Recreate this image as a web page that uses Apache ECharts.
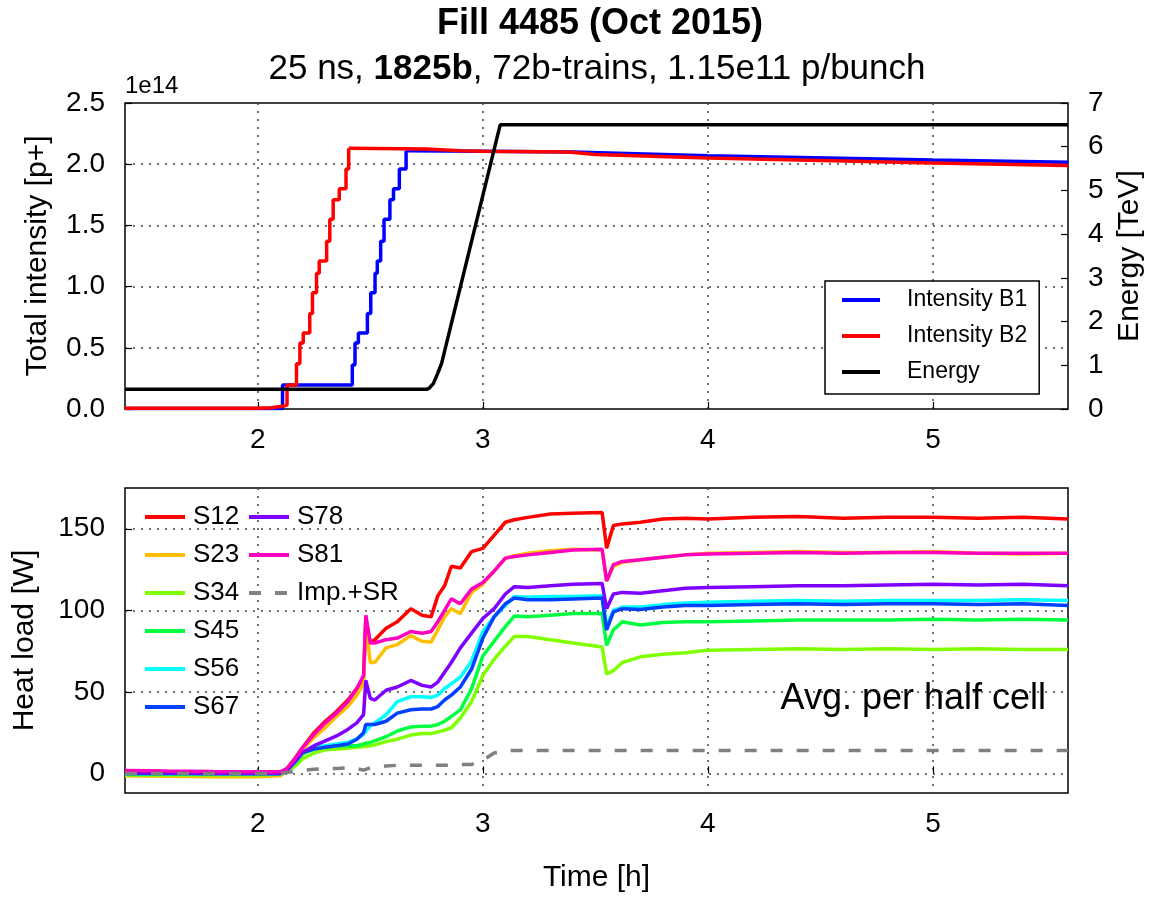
<!DOCTYPE html>
<html>
<head>
<meta charset="utf-8">
<script src="https://cdn.jsdelivr.net/npm/echarts@6/dist/echarts.min.js"></script>
<style>html,body{margin:0;padding:0;background:#fff}#c{width:1154px;height:898px}</style>
</head>
<body>
<div id="c"></div>
<script>
// ---------- data ----------
// top panel: intensity in units of 1e14 p+, time in hours
const b1Steps = [[1.41,0.004],[2.11,0.197],[2.42,0.36],[2.432,0.54],[2.447,0.62],[2.487,0.78],[2.502,0.95],[2.521,1.11],[2.531,1.21],[2.546,1.37],[2.561,1.55],[2.587,1.71],[2.603,1.80],[2.629,1.96],[2.659,2.11]];
const b1Decay = [[2.659,2.11],[3.0,2.105],[3.4,2.10],[4.0,2.07],[5.0,2.035],[5.6,2.015]];
const b2Steps = [[1.41,0.006],[1.9,0.007],[2.0,0.01],[2.06,0.02],[2.1,0.03],[2.13,0.197],[2.172,0.37],[2.187,0.54],[2.202,0.62],[2.231,0.78],[2.243,0.95],[2.261,1.11],[2.273,1.21],[2.306,1.37],[2.320,1.55],[2.335,1.71],[2.362,1.80],[2.392,1.96],[2.404,2.13]];
const b2Decay = [[2.404,2.13],[2.75,2.125],[2.9,2.11],[3.0,2.105],[3.38,2.10],[3.5,2.08],[4.0,2.05],[5.0,2.01],[5.6,1.99]];
const energy = [[1.41,0.45],[2.75,0.45],[2.76,0.47],[2.78,0.58],[2.80,0.82],[2.817,1.05],[3.077,6.5],[5.6,6.5]];
const xTicks = [2,3,4,5];
const heatTicks = [0,50,100,150];

// bottom panel: heat load [W]
const hlTime = [1.41,1.6,1.8,2.0,2.1, 2.13,2.17,2.2,2.25,2.3, 2.35,2.4,2.44,2.47,2.48, 2.5,2.52,2.57,2.62,2.68, 2.73,2.77,2.8,2.83,2.86, 2.9,2.95,3.0,3.05,3.1, 3.14,3.2,3.3,3.4,3.53, 3.55,3.58,3.62,3.7,3.8, 3.9,4.0,4.2,4.4,4.6, 4.8,5.0,5.2,5.4,5.6];
const s12 = [1.0,0.8,0.5,0.3,0.5, 3,10,16,25,32, 38,45,52,58,94, 80,82,89,93,101, 97,96,109,115,127, 126,136,138,146,154, 155.5,157,159,159.5,160, 138,152,153,154,156, 156.5,156,157,157.5,156.5, 157,157,156.5,157,156];
const s23 = [-1.5,-1.8,-2,-2,-1.5, 2,9,15,22,28, 35,41,48,55,92, 68,68,77,79,84.5, 81,80.5,88,96,101, 98,111,116,124,132, 133.5,135,136.5,137.5,137, 118,127,129.5,131,132.5, 134,135,135.5,136,135.5, 135.5,136,135,134.5,135];
const s34 = [-1,-1,-1,-1,-0.5, 1,5,9,12.5,14.5, 15,15.5,16,16.5,16.5, 17,17.5,19.5,21,23.5, 24.5,24.5,25.5,26.5,28, 34,44,60,70,78, 84,84,82,80,77.5, 61,63,68,71.5,73, 74,75.5,76,76.5,76, 76.5,76,76.5,76,76];
const s45 = [-0.5,-0.5,-0.5,-0.5,-0.5, 1.5,7,12,15,16, 17,17,17,18,18.5, 19,20,22.5,26,28.5, 29,29,30,32,35, 39,52,72,81,90, 96.5,96,97,98,98, 78.5,88,93,91,92.5, 93,93,93.5,94,94, 94,94.5,94,94.5,94];
const s56 = [0,0,0,0,0, 2,8,13,16,17, 18,19,21,24,26, 29,31,36,44,47, 47,46.5,48,52,55, 59,69,87,96,103, 108.5,108,108.5,108.5,109, 90,100,102,102,103.5, 104.5,105,105.5,106,105.5, 106,106,106,106.5,106];
const s67 = [0,0,0,0,0, 2,8,13,15,16, 17,18,21,25,30, 30,30,32,37,39, 39.5,39.5,41,45,48, 53,64,83,96,104, 107.5,106.5,106.5,107,107.5, 88,99,101,100.5,102, 103,103,103.5,104,103.5, 104,104,103.5,104,103];
const s78 = [0.5,0.3,0,0,0, 2,8,13,17,20, 23,27,31,36,57, 46,45,51,53,57, 54,53,56,62,68, 77,86,95,101,110, 114.5,114,115,116,116.5, 101,110,111,110.5,112, 113.5,114,114.5,115,115, 115.5,116,115.5,116,115];
const s81 = [1.8,1.5,1.2,1.0,1.0, 3,10,16,24,31, 37,44,52,60,97, 80,80,82,83,87, 86,87,93,100,107, 104,113,117,124,132, 133,134,135.5,137,137.5, 118,128,130,131,132.5, 134,134.5,135,135.5,135, 135.5,135.5,135,135,135];
const impSR = [0,0,0,0,0, 0.5,1.5,2,2.5,3, 3,3.5,3,2,2.5, 3.5,4,4.5,5,5, 5,5,5,5,5, 5.5,5.5,8,12.5,14, 14,14,14,14,14, 14,14,14,14,14, 14,14,14,14,14, 14,14,14,14,14];

const sectorNames = ['S12','S23','S34','S45','S56','S67','S78','S81'];
const sectorValues = [s12,s23,s34,s45,s56,s67,s78,s81];
const sectorColors = ['#ff0000','#ffbf00','#80ff00','#00ff40','#00ffff','#0040ff','#8000ff','#ff00bf'];

// ---------- chart ----------
const FONT = '"Liberation Sans", Arial, Helvetica, sans-serif';
const zip = arr => hlTime.map((t,i) => [t, arr[i]]);
const dotted = {show:true, lineStyle:{type:[2,6], color:'#444', width:1.5}};
const tickIn = {inside:true, length:7, lineStyle:{color:'#000', width:1.2}};
const lbl = {fontSize:28, color:'#000', fontFamily:FONT};
const hiddenMarker = {color:'rgba(0,0,0,0)', borderWidth:0, opacity:0};

const series = [
  {name:'Intensity B1', type:'line', step:'end', xAxisIndex:0, yAxisIndex:0, data:b1Steps, symbol:'none', lineStyle:{color:'#0000ff', width:3.5}, itemStyle:{color:'#0000ff'}},
  {name:'B1 decay', type:'line', xAxisIndex:0, yAxisIndex:0, data:b1Decay, symbol:'none', lineStyle:{color:'#0000ff', width:3.5}, itemStyle:{color:'#0000ff'}},
  {name:'Intensity B2', type:'line', step:'end', xAxisIndex:0, yAxisIndex:0, data:b2Steps, symbol:'none', lineStyle:{color:'#ff0000', width:3.5}, itemStyle:{color:'#ff0000'}},
  {name:'B2 decay', type:'line', xAxisIndex:0, yAxisIndex:0, data:b2Decay, symbol:'none', lineStyle:{color:'#ff0000', width:3.5}, itemStyle:{color:'#ff0000'}},
  {name:'Energy', type:'line', xAxisIndex:0, yAxisIndex:1, data:energy, symbol:'none', lineStyle:{color:'#000', width:3.5}, itemStyle:{color:'#000'}}
];
sectorNames.forEach((n,i) => series.push({
  name:n, type:'line', xAxisIndex:1, yAxisIndex:2, data:zip(sectorValues[i]), symbol:'none',
  lineStyle:{color:sectorColors[i], width:3.5}, itemStyle:{color:sectorColors[i]}
}));
series.push({name:'Imp.+SR', type:'line', xAxisIndex:1, yAxisIndex:2, data:zip(impSR), symbol:'none',
  lineStyle:{color:'#808080', width:3.5, type:[12,14]}, itemStyle:{color:'#808080'}});

const chart = echarts.init(document.getElementById('c'), null, {renderer:'canvas'});
chart.setOption({
  animation:false,
  backgroundColor:'#fff',
  textStyle:{fontFamily:FONT, color:'#000'},
  grid:[
    {left:125, right:86, top:103, height:306, show:true, borderColor:'#000', borderWidth:1.5},
    {left:125, right:86, top:488, height:305, show:true, borderColor:'#000', borderWidth:1.5}
  ],
  xAxis:[
    {type:'value', gridIndex:0, min:1.41, max:5.6, axisLine:{show:false},
     axisTick:Object.assign({customValues:xTicks}, tickIn),
     axisLabel:Object.assign({customValues:xTicks, margin:17}, lbl), splitLine:dotted},
    {type:'value', gridIndex:1, min:1.41, max:5.6, axisLine:{show:false},
     axisTick:Object.assign({customValues:xTicks}, tickIn),
     axisLabel:Object.assign({customValues:xTicks, margin:17}, lbl), splitLine:dotted,
     name:'Time [h]', nameLocation:'middle', nameGap:70, nameTextStyle:{fontSize:30, color:'#000', fontFamily:FONT}}
  ],
  yAxis:[
    {type:'value', gridIndex:0, min:0, max:2.5, interval:0.5, axisLine:{show:false}, axisTick:tickIn,
     axisLabel:Object.assign({margin:20, formatter:v => v.toFixed(1)}, lbl), splitLine:dotted,
     name:'Total intensity [p+]', nameLocation:'middle', nameGap:72, nameRotate:90,
     nameTextStyle:{fontSize:30, color:'#000', fontFamily:FONT}},
    {type:'value', gridIndex:0, position:'right', min:0, max:7, interval:1, axisLine:{show:false}, axisTick:tickIn,
     axisLabel:Object.assign({margin:20}, lbl), splitLine:{show:false},
     name:'Energy [TeV]', nameLocation:'middle', nameGap:45, nameRotate:90,
     nameTextStyle:{fontSize:30, color:'#000', fontFamily:FONT}},
    {type:'value', gridIndex:1, min:-12, max:175, axisLine:{show:false},
     axisTick:Object.assign({customValues:heatTicks}, tickIn),
     axisLabel:Object.assign({customValues:heatTicks, margin:20}, lbl), splitLine:dotted,
     name:'Heat load [W]', nameLocation:'middle', nameGap:85, nameRotate:90,
     nameTextStyle:{fontSize:30, color:'#000', fontFamily:FONT}}
  ],
  legend:[
    {data:['Intensity B1','Intensity B2','Energy'], orient:'vertical', left:825, top:281,
     backgroundColor:'#fff', borderColor:'#000', borderWidth:1.5, borderRadius:0,
     padding:[7,12,10,15], itemWidth:38, itemHeight:14, itemGap:12, itemStyle:hiddenMarker,
     lineStyle:{width:4},
     textStyle:{fontSize:23, lineHeight:24, color:'#000', fontFamily:FONT, padding:[0,0,0,22]}},
    {data:['S12','S23','S34','S45','S56','S67'], orient:'vertical', left:143, top:504, padding:0,
     itemWidth:40, itemHeight:14, itemGap:12, itemStyle:hiddenMarker, lineStyle:{width:4},
     textStyle:{fontSize:26, lineHeight:26, color:'#000', fontFamily:FONT, padding:[0,0,0,3]}},
    {data:['S78','S81','Imp.+SR'], orient:'vertical', left:247, top:504, padding:0,
     itemWidth:40, itemHeight:14, itemGap:12, itemStyle:hiddenMarker, lineStyle:{width:4},
     textStyle:{fontSize:26, lineHeight:26, color:'#000', fontFamily:FONT, padding:[0,0,0,3]}}
  ],
  graphic:[
    {type:'text', x:600, y:24, style:{text:'Fill 4485 (Oct 2015)', fontSize:36, fontWeight:'bold', fontFamily:FONT, fill:'#000', align:'center', verticalAlign:'middle'}},
    {type:'text', x:597, y:69, style:{text:'25 ns, {b|1825b}, 72b-trains, 1.15e11 p/bunch', fontSize:35, fontFamily:FONT, fill:'#000', align:'center', verticalAlign:'middle',
      rich:{b:{fontSize:35, fontWeight:'bold', fontFamily:FONT, fill:'#000'}}}},
    {type:'text', x:125, y:86, style:{text:'1e14', fontSize:24, fontFamily:FONT, fill:'#000', align:'left', verticalAlign:'middle'}},
    {type:'text', x:1046, y:699, style:{text:'Avg. per half cell', fontSize:36, fontFamily:FONT, fill:'#000', align:'right', verticalAlign:'middle'}}
  ],
  series:series
});
</script>
</body>
</html>
